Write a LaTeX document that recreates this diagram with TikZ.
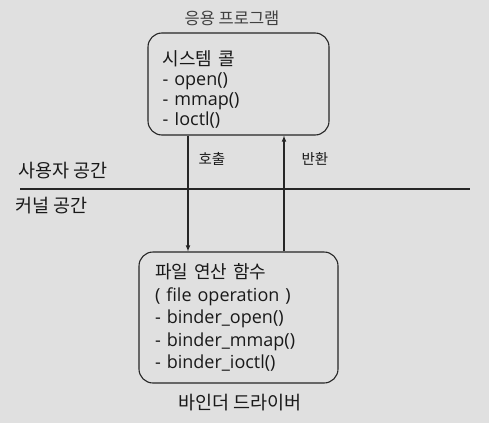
\documentclass[tikz,border=0pt]{standalone}
\usepackage{fontspec}
\setmainfont{Open Sans}
\newfontfamily\kr{Noto Sans CJK KR}
\usetikzlibrary{arrows}
\usetikzlibrary{positioning}

\begin{document}
\begin{tikzpicture}
        [x=1pt, y=-1pt,
         every node/.style={text=black!90},
         box/.style={draw=black!85, line width=1.1pt, rounded corners=14pt, align=left, inner ysep=0pt},
         tag/.style={font=\kr\fontsize{14.5}{17}\selectfont, inner sep=2pt}]
        \fill [black!12] (0,0) rectangle (489,423);
        \useasboundingbox (0,0) rectangle (489,423);
        \node [font=\kr\fontsize{16.5}{19}\selectfont, text=black!75] (app) at (232,18) {응용 프로그램};
        \node [box, minimum width=181, minimum height=102, text width=152, inner xsep=14.5pt,
               font=\fontsize{18}{20}\selectfont] (syscall) at (238.5,84)
              {\rule{0pt}{26pt}{\kr 시스템 콜}\\- open()\\- mmap()\\- Ioctl()};
        \node [box, minimum width=199, minimum height=131, text width=167, inner xsep=16pt,
               font=\fontsize{18}{22.5}\selectfont] (fileop) at (238.5,317.5)
              {{\kr 파일 연산 함수}\\( file operation )\\- binder\_open()\\- binder\_mmap()\\- binder\_ioctl()};
        \node [font=\kr\fontsize{18.5}{21}\selectfont] (driver) at (240,403) {바인더 드라이버};
        \coordinate (left) at (20,189);
        \coordinate (right) at (470,189);
        \draw [line width=1.1pt, black!85] (left) -- (right);
        \node [font=\kr\fontsize{18.5}{21}\selectfont, anchor=west] (user) at (15,171) {사용자 공간};
        \node [font=\kr\fontsize{18.5}{21}\selectfont, anchor=west] (kernel) at (12,206) {커널 공간};
        \draw [line width=1.1pt, black!85, -latex] ([xshift=-50.5]syscall.south) -- node [tag, pos=0.2, right=8pt] (call) {호출} ([xshift=-50.5]fileop.north);
        \draw [line width=1.1pt, black!85, -latex] ([xshift=45.5]fileop.north) -- node [tag, pos=0.8, right=15pt] (ret) {반환} ([xshift=45.5]syscall.south);
    \end{tikzpicture}
\end{document}
